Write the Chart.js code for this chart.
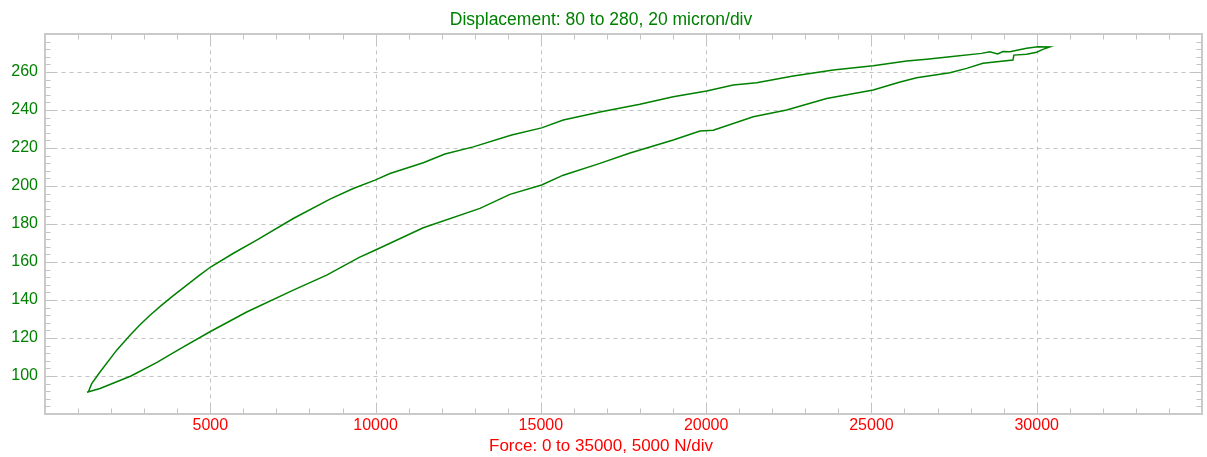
<!DOCTYPE html>
<html>
<head>
<meta charset="utf-8">
<script src="https://cdn.jsdelivr.net/npm/chart.js@4/dist/chart.umd.min.js"></script>
<style>
  html, body { margin: 0; padding: 0; background: #ffffff; }
  #wrap { width: 1207px; height: 457px; position: relative; }
</style>
</head>
<body>
<div id="wrap"><canvas id="chart"></canvas></div>
<script>
// Force (N) and displacement (micron) along the upper branch, low force to peak
const upperForce = [1270, 1310, 1413, 1664, 2169, 2571, 2874, 3176, 3530, 3881, 4688, 5021, 5700, 6404, 7511,
  8621, 9325, 9982, 10436, 11443, 12099, 12955, 14117, 15024, 15678, 16788, 17998, 19005,
  20015, 20820, 21527, 22635, 23845, 25054, 26065, 26670, 27375, 28333, 28584, 28817, 28978,
  29189, 29694, 30036, 30399];
const upperDisp = [91.4, 91.6, 96.0, 102.1, 113.6, 121.5, 127.0, 132.0, 137.3, 142.3, 153.2, 157.5, 164.6, 171.5, 182.9,
  193.1, 198.7, 203.1, 206.6, 212.2, 216.8, 220.6, 226.8, 230.6, 234.7, 238.9, 243.0, 247.0,
  250.0, 253.1, 254.3, 257.9, 261.0, 263.3, 265.8, 266.7, 268.0, 269.8, 270.7, 269.5, 270.8,
  270.7, 272.5, 273.3, 273.2];

// Lower branch, low force to peak
const lowerForce = [1270, 1664, 2601, 3388, 4083, 4991, 6101, 7511, 8521, 9507, 9982, 11443,
  13158, 14065, 15024, 15678, 16788, 17674, 19005, 19813, 20215, 21425, 22435, 23645, 25054,
  25841, 26367, 27375, 27880, 28373, 29280, 29310, 29694, 29997, 30188, 30399];
const lowerDisp = [91.4, 93.4, 100.0, 107.2, 114.3, 123.3, 133.7, 145.2, 153.1, 162.4, 166.2, 178.0,
  188.2, 195.6, 200.5, 205.7, 211.9, 217.2, 224.2, 228.9, 229.4, 236.4, 240.0, 246.1, 250.5,
  254.6, 257.0, 259.6, 261.9, 264.6, 266.3, 268.9, 269.4, 270.4, 271.9, 273.2];

// Axis ranges and labelled ticks
const forceMin = 0, forceMax = 35000, forceStep = 5000, forceMinor = 1000;
const dispMin = 80, dispMax = 280, dispStep = 20, dispMinor = 4;
const forceTickLabels = [5000, 10000, 15000, 20000, 25000, 30000];
const dispTickLabels = [100, 120, 140, 160, 180, 200, 220, 240, 260];

const titleText = 'Displacement: 80 to 280, 20 micron/div';
const axisText = 'Force: 0 to 35000, 5000 N/div';

// One closed loop: up along the upper branch, back down along the lower one
const loop = [];
for (let i = 0; i < upperForce.length; i++) loop.push({ x: upperForce[i], y: upperDisp[i] });
for (let i = lowerForce.length - 1; i >= 0; i--) loop.push({ x: lowerForce[i], y: lowerDisp[i] });

const FONT = 'Liberation Sans, Arial, sans-serif';
const GREEN = '#008000';
const RED = '#ff0000';

// Dashed grid, inward ticks and the plot frame
const framePlugin = {
  id: 'frame',
  beforeDatasetsDraw(chart) {
    const { ctx, chartArea: a, scales: { x, y } } = chart;
    const L = Math.round(a.left) + 0.5, R = Math.round(a.right) - 0.5;
    const T = Math.round(a.top) + 0.5, B = Math.round(a.bottom) - 0.5;
    ctx.save();
    ctx.lineWidth = 1;
    ctx.strokeStyle = '#c3c3c3';
    ctx.setLineDash([4, 4]);
    ctx.beginPath();
    for (let v = forceMin + forceStep; v < forceMax; v += forceStep) {
      const px = Math.round(x.getPixelForValue(v)) + 0.5;
      ctx.moveTo(px, T); ctx.lineTo(px, B);
    }
    for (let v = dispMin + dispStep; v < dispMax; v += dispStep) {
      const py = Math.round(y.getPixelForValue(v)) + 0.5;
      ctx.moveTo(L, py); ctx.lineTo(R, py);
    }
    ctx.stroke();
    ctx.setLineDash([]);
    ctx.beginPath();
    for (let v = forceMin + forceMinor; v < forceMax; v += forceMinor) {
      const px = Math.round(x.getPixelForValue(v)) + 0.5;
      const len = v % forceStep === 0 ? 9 : 5;
      ctx.moveTo(px, T); ctx.lineTo(px, T + len);
      ctx.moveTo(px, B); ctx.lineTo(px, B - len);
    }
    for (let v = dispMin + dispMinor; v < dispMax; v += dispMinor) {
      const py = Math.round(y.getPixelForValue(v)) + 0.5;
      const len = v % dispStep === 0 ? 9 : 5;
      ctx.moveTo(L, py); ctx.lineTo(L + len, py);
      ctx.moveTo(R, py); ctx.lineTo(R - len, py);
    }
    ctx.stroke();
    ctx.lineWidth = 2;
    ctx.strokeStyle = '#cacaca';
    ctx.strokeRect(Math.round(a.left), Math.round(a.top), Math.round(a.right) - Math.round(a.left), Math.round(a.bottom) - Math.round(a.top));
    ctx.restore();
  }
};

new Chart(document.getElementById('chart'), {
  type: 'scatter',
  data: {
    datasets: [{
      data: loop,
      showLine: true,
      borderColor: GREEN,
      borderWidth: 1.5,
      pointRadius: 0,
      fill: false,
      tension: 0
    }]
  },
  options: {
    responsive: true,
    maintainAspectRatio: false,
    animation: false,
    devicePixelRatio: 1,
    layout: { padding: { left: 0, right: 5, top: 0, bottom: 0 } },
    plugins: {
      legend: { display: false },
      tooltip: { enabled: false },
      title: {
        display: true,
        text: titleText,
        color: GREEN,
        font: { family: FONT, size: 17.5, weight: 'normal', lineHeight: 1.2 },
        padding: { top: 9.5, bottom: 3.5 }
      },
      subtitle: {
        display: true,
        position: 'bottom',
        text: axisText,
        color: RED,
        font: { family: FONT, size: 17, weight: 'normal', lineHeight: 1.2 },
        padding: { top: 0.8, bottom: 0.8 }
      }
    },
    scales: {
      x: {
        type: 'linear',
        min: forceMin,
        max: forceMax,
        grid: { display: false, drawTicks: false },
        border: { display: false },
        afterFit(scale) { scale.height = 21; },
        ticks: {
          stepSize: forceStep,
          padding: 2,
          color: RED,
          maxRotation: 0,
          font: { family: FONT, size: 16, lineHeight: 1.2 },
          callback: (v) => forceTickLabels.includes(v) ? String(v) : ''
        }
      },
      y: {
        type: 'linear',
        min: dispMin,
        max: dispMax,
        grid: { display: false, drawTicks: false },
        border: { display: false },
        afterFit(scale) { scale.width = 45; },
        ticks: {
          stepSize: dispStep,
          padding: 7,
          color: GREEN,
          font: { family: FONT, size: 16, lineHeight: 1.2 },
          callback: (v) => dispTickLabels.includes(v) ? String(v) : ''
        }
      }
    }
  },
  plugins: [framePlugin]
});
</script>
</body>
</html>
